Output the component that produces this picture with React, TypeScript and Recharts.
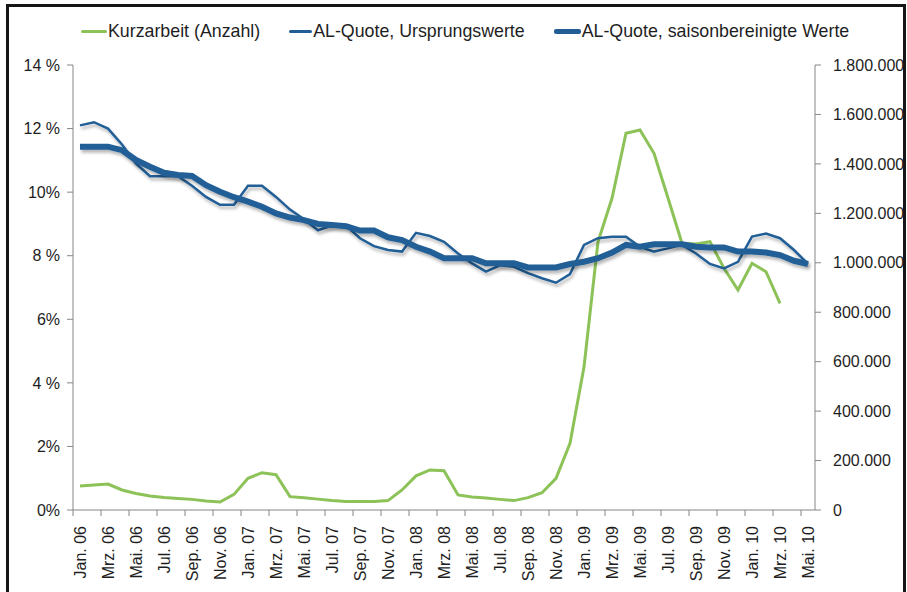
import { LineChart, Line, XAxis, YAxis } from "recharts";

const MONTHS = [
  "Jan. 06", "Feb. 06", "Mrz. 06", "Apr. 06", "Mai. 06", "Jun. 06",
  "Jul. 06", "Aug. 06", "Sep. 06", "Okt. 06", "Nov. 06", "Dez. 06",
  "Jan. 07", "Feb. 07", "Mrz. 07", "Apr. 07", "Mai. 07", "Jun. 07",
  "Jul. 07", "Aug. 07", "Sep. 07", "Okt. 07", "Nov. 07", "Dez. 07",
  "Jan. 08", "Feb. 08", "Mrz. 08", "Apr. 08", "Mai. 08", "Jun. 08",
  "Jul. 08", "Aug. 08", "Sep. 08", "Okt. 08", "Nov. 08", "Dez. 08",
  "Jan. 09", "Feb. 09", "Mrz. 09", "Apr. 09", "Mai. 09", "Jun. 09",
  "Jul. 09", "Aug. 09", "Sep. 09", "Okt. 09", "Nov. 09", "Dez. 09",
  "Jan. 10", "Feb. 10", "Mrz. 10", "Apr. 10", "Mai. 10",
];

// Kurzarbeit, Anzahl (rechte Achse)
const KURZARBEIT = [
  97000, 101000, 105000, 81000, 67000, 57000, 51000, 47000, 43000, 36000, 32000, 63000,
  128000, 151000, 143000, 54000, 50000, 44000, 38000, 34000, 34000, 34000, 38000, 81000,
  138000, 162000, 159000, 61000, 53000, 49000, 43000, 38000, 50000, 70000, 128000, 270000,
  578000, 1085000, 1261000, 1524000, 1537000, 1443000, 1262000, 1079000, 1076000, 1085000, 978000, 890000,
  998000, 964000, 836000, null, null,
];

// AL-Quote in %, Ursprungswerte
const AL_URSPRUNG = [
  12.1, 12.2, 12.0, 11.5, 10.9, 10.5, 10.5, 10.5, 10.2, 9.85, 9.6, 9.6,
  10.2, 10.2, 9.85, 9.45, 9.15, 8.8, 8.95, 8.95, 8.55, 8.3, 8.18, 8.13,
  8.72, 8.62, 8.44, 8.07, 7.76, 7.5, 7.7, 7.65, 7.45, 7.29, 7.15, 7.42,
  8.34, 8.55, 8.6, 8.6, 8.28, 8.13, 8.23, 8.34, 8.07, 7.74, 7.6, 7.81,
  8.6, 8.7, 8.55, 8.18, 7.74,
];

// AL-Quote in %, saisonbereinigt
const AL_SAISON = [
  11.43, 11.43, 11.43, 11.32, 11.01, 10.8, 10.61, 10.54, 10.51, 10.22, 10.01, 9.84,
  9.7, 9.54, 9.33, 9.2, 9.12, 9.0, 8.97, 8.93, 8.79, 8.79, 8.58, 8.49,
  8.28, 8.13, 7.92, 7.92, 7.92, 7.76, 7.76, 7.76, 7.63, 7.63, 7.63, 7.74,
  7.81, 7.92, 8.1, 8.34, 8.28, 8.36, 8.36, 8.36, 8.28, 8.26, 8.26, 8.13,
  8.13, 8.1, 8.02, 7.84, 7.74,
];

const PCT_TICKS = [0, 2, 4, 6, 8, 10, 12, 14];
const PCT_LABELS = ["0%", "2%", "4 %", "6%", "8 %", "10%", "12 %", "14 %"];
const COUNT_TICKS = [0, 200000, 400000, 600000, 800000, 1000000, 1200000, 1400000, 1600000, 1800000];
const COUNT_LABELS = ["0", "200.000", "400.000", "600.000", "800.000", "1.000.000", "1.200.000", "1.400.000", "1.600.000", "1.800.000"];

const GREEN = "#8cc257";
const BLUE = "#215e96";
const AXIS = "#868686";
const TEXT = "#1e1e1e";
const FONT = "'Liberation Sans', Arial, sans-serif";

const LEGEND = [
  { name: "Kurzarbeit (Anzahl)", color: GREEN, width: 3, line: 26 },
  { name: "AL-Quote, Ursprungswerte", color: BLUE, width: 2.5, line: 23 },
  { name: "AL-Quote, saisonbereinigte Werte", color: BLUE, width: 5, line: 27 },
];

const data = MONTHS.map((month, i) => ({
  month,
  kurz: KURZARBEIT[i],
  ursprung: AL_URSPRUNG[i],
  saison: AL_SAISON[i],
}));

function MonthTick({ x, y, payload }: any) {
  return (
    <g>
      <line x1={x - 7} x2={x - 7} y1={y} y2={y + 6} stroke={AXIS} strokeWidth={1} />
      <text
        x={x}
        y={y + 16}
        dy="0.36em"
        transform={`rotate(-90, ${x}, ${y + 16})`}
        textAnchor="end"
        fontSize={16}
        fontFamily={FONT}
        fill={TEXT}
      >
        {payload.value}
      </text>
    </g>
  );
}

export default function App() {
  return (
    <div
      style={{
        position: "fixed",
        left: 0,
        top: 0,
        width: 907,
        height: 592,
        background: "#fff",
        overflow: "hidden",
        fontFamily: FONT,
      }}
    >
      <style>{`.al-shadow path { filter: url(#lineShadow); }`}</style>
      <div
        style={{
          position: "absolute",
          left: 6,
          top: 4,
          width: 894,
          height: 620,
          border: "3px solid #151515",
        }}
      />
      <div
        style={{
          position: "absolute",
          left: 81,
          top: 21,
          display: "flex",
          alignItems: "center",
          gap: 29,
          fontSize: 17.8,
          color: TEXT,
          whiteSpace: "nowrap",
        }}
      >
        {LEGEND.map((item) => (
          <div key={item.name} style={{ display: "flex", alignItems: "center" }}>
            <span
              style={{
                display: "inline-block",
                width: item.line,
                height: item.width,
                background: item.color,
                borderRadius: 2,
                marginRight: 1,
              }}
            />
            <span>{item.name}</span>
          </div>
        ))}
      </div>
      <div style={{ position: "absolute", left: 0, top: 0 }}>
        <LineChart
          width={907}
          height={592}
          data={data}
          margin={{ top: 65, right: 0, bottom: 0, left: 0 }}
        >
          <defs>
            <filter id="lineShadow" x="-5%" y="-30%" width="110%" height="160%">
              <feDropShadow dx="1.5" dy="3" stdDeviation="1.5" floodColor="#000" floodOpacity="0.28" />
            </filter>
          </defs>
          <XAxis
            dataKey="month"
            interval={1}
            padding={{ left: 7, right: 7 }}
            height={82}
            tickLine={false}
            tickSize={0}
            tickMargin={0}
            axisLine={{ stroke: AXIS }}
            tick={<MonthTick />}
          />
          <YAxis
            yAxisId="pct"
            width={73}
            domain={[0, 14]}
            ticks={PCT_TICKS}
            tickFormatter={(v: number) => PCT_LABELS[PCT_TICKS.indexOf(v)]}
            tickSize={6}
            tickMargin={7}
            axisLine={{ stroke: AXIS }}
            tickLine={{ stroke: AXIS }}
            tick={{ fontSize: 16, fill: TEXT, fontFamily: FONT }}
          />
          <YAxis
            yAxisId="count"
            orientation="right"
            width={92}
            domain={[0, 1800000]}
            ticks={COUNT_TICKS}
            tickFormatter={(v: number) => COUNT_LABELS[COUNT_TICKS.indexOf(v)]}
            tickSize={6}
            tickMargin={12}
            axisLine={{ stroke: AXIS }}
            tickLine={{ stroke: AXIS }}
            tick={{ fontSize: 16, fill: TEXT, fontFamily: FONT, textAnchor: "start" }}
          />
          <Line
            yAxisId="count"
            dataKey="kurz"
            stroke={GREEN}
            strokeWidth={3}
            dot={false}
            activeDot={false}
            isAnimationActive={false}
          />
          <Line
            yAxisId="pct"
            dataKey="ursprung"
            className="al-shadow"
            stroke={BLUE}
            strokeWidth={2.5}
            dot={false}
            activeDot={false}
            isAnimationActive={false}
          />
          <Line
            yAxisId="pct"
            dataKey="saison"
            className="al-shadow"
            stroke={BLUE}
            strokeWidth={6}
            dot={false}
            activeDot={false}
            isAnimationActive={false}
          />
        </LineChart>
      </div>
    </div>
  );
}
